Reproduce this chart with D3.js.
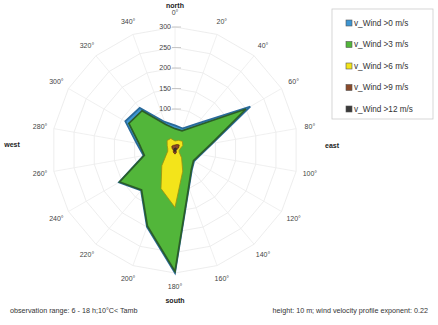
<!DOCTYPE html>
<html><head><meta charset="utf-8">
<script src="https://cdn.jsdelivr.net/npm/d3@7"></script>
<style>
html,body{margin:0;padding:0;background:#fff;}
svg{display:block;font-family:"Liberation Sans",Arial,sans-serif;}
</style></head>
<body>
<svg id="c" width="438" height="325"></svg>
<script>
const directions = [0,20,40,60,80,100,120,140,160,180,200,220,240,260,280,300,320,340];
const seriesNames = ["v_Wind >0 m/s","v_Wind >3 m/s","v_Wind >6 m/s","v_Wind >9 m/s","v_Wind >12 m/s"];
const wind0  = [60,56,84,212,93,64,54,64,99,300,200,129,158,78,95,140,134,73];
const wind3  = [52,50,75,200,90,62,52,62,97,296,197,127,156,76,89,130,125,66];
const wind6  = [22,25,28,22,12,10,12,25,55,140,100,50,25,18,18,22,30,30];
const wind9  = [12,14,16,10,4,3,3,5,8,10,8,6,5,4,5,8,12,12];
const wind12 = [4,5,5,4,2,2,2,2,3,4,3,3,2,2,2,3,4,4];
const ringTicks = [0,50,100,150,200,250,300];
const compass = ["north","east","south","west"];

const fills   = ["#3d95d2","#52b63a","#f3e41a","#8a4a2a","#3a3a3a"];
const strokes = ["#2a6a9a","#2c5e27","#9a8f10","#5a2a10","#222"];
const series = [wind0,wind3,wind6,wind9,wind12];

const svg = d3.select("#c");
const cx = 175, cy = 150;
const r = d3.scaleLinear().domain([0,300]).range([0,123]);
const ang = d3.scaleLinear().domain([0,360]).range([0,2*Math.PI]);
const g = svg.append("g").attr("transform",`translate(${cx},${cy})`);

// grid polygons
const gridLine = d3.lineRadial().angle(d=>ang(d[0])).radius(d=>r(d[1])).curve(d3.curveLinearClosed);
ringTicks.filter(t=>t>0).forEach(t=>{
  g.append("path").attr("d",gridLine(directions.map(d=>[d,t])))
   .attr("fill","none").attr("stroke","#e8e8e8").attr("stroke-width",0.8);
});
directions.forEach(d=>{
  const a = ang(d);
  g.append("line").attr("x1",0).attr("y1",0)
   .attr("x2",Math.sin(a)*r(300)).attr("y2",-Math.cos(a)*r(300))
   .attr("stroke","#ececec").attr("stroke-width",0.8);
});

// series
const area = d3.lineRadial().angle((d,i)=>ang(directions[i])).radius(d=>r(d)).curve(d3.curveLinearClosed);
series.forEach((s,i)=>{
  g.append("path").attr("d",area(s)).attr("fill",fills[i])
   .attr("stroke",strokes[i]).attr("stroke-width",i<2?1.7:0.8).attr("stroke-linejoin","miter");
});

// value axis labels and ticks
ringTicks.filter(t=>t>=100).forEach(t=>{
  g.append("text").attr("x",-4).attr("y",-r(t)).attr("dy","0.35em")
   .attr("text-anchor","end").attr("font-size",7).attr("fill","#444").text(t);
  g.append("line").attr("x1",-3).attr("x2",6).attr("y1",-r(t)).attr("y2",-r(t))
   .attr("stroke","#bbb").attr("stroke-width",0.8);
});

// angle labels
directions.forEach(d=>{
  const a = ang(d), R = 137;
  g.append("text").attr("x",Math.sin(a)*R).attr("y",-Math.cos(a)*R).attr("dy","0.35em")
   .attr("text-anchor","middle").attr("font-size",7).attr("fill","#444").text(d+"°");
});
// compass words
const cpos = {north:[0,-144],east:[157,-4],south:[0,151],west:[-163,-5]};
compass.forEach(name=>{
  g.append("text").attr("x",cpos[name][0]).attr("y",cpos[name][1]).attr("dy","0.35em")
   .attr("text-anchor","middle").attr("font-size",7).attr("font-weight","bold").attr("fill","#222").text(name);
});

// legend
const lg = svg.append("g").attr("transform","translate(332,9)");
lg.append("rect").attr("width",101).attr("height",110).attr("fill","#fff").attr("stroke","#ccc").attr("stroke-width",0.8);
seriesNames.forEach((n,i)=>{
  const y = 14 + i*21.5;
  lg.append("rect").attr("x",14).attr("y",y-3).attr("width",6).attr("height",6)
    .attr("fill",fills[i]).attr("stroke","#555").attr("stroke-width",0.6);
  lg.append("text").attr("x",22).attr("y",y).attr("dy","0.35em").attr("font-size",8.2)
    .attr("fill","#333").text(n);
});

// footnotes
svg.append("text").attr("x",10).attr("y",313).attr("font-size",7.2).attr("fill","#333")
  .text("observation range: 6 - 18 h;10°C< Tamb");
svg.append("text").attr("x",428).attr("y",313).attr("text-anchor","end").attr("font-size",7.2).attr("fill","#333")
  .text("height: 10 m; wind velocity profile exponent: 0.22");
</script>
</body></html>
